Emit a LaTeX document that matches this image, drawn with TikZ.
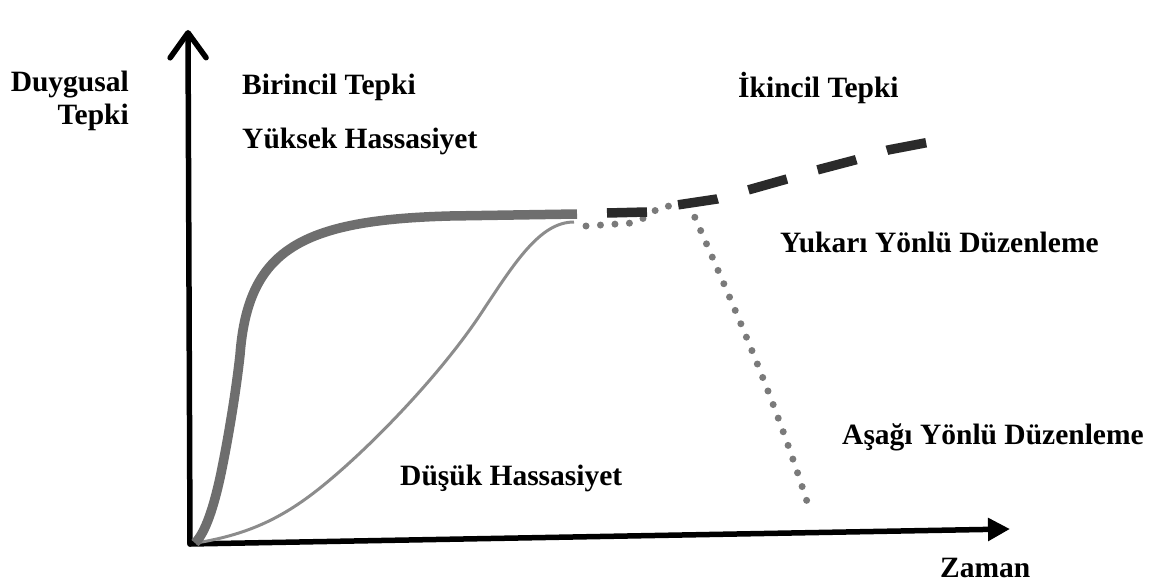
\documentclass[tikz,border=0pt]{standalone}
\usepackage{fontspec}
\setmainfont{Liberation Serif}
\usetikzlibrary{arrows.meta}
\definecolor{strongc}{HTML}{6E6E6E}
\definecolor{weakc}{HTML}{8C8C8C}
\definecolor{dotc}{HTML}{7A7A7A}
\definecolor{dashc}{HTML}{2A2A2A}
\begin{document}
\begin{tikzpicture}[x=1pt,y=-1pt,
  lbl/.style={font=\fontsize{29.5}{34}\selectfont\bfseries, inner sep=0pt, anchor=base west, text=black},
  axisline/.style={line width=5.5pt, draw=black, line cap=round, line join=round},
  strongcurve/.style={line width=9.5pt, draw=strongc},
  weakcurve/.style={line width=3pt, draw=weakc},
  dotline/.style={line width=7pt, draw=dotc, line cap=round, dash pattern=on 0pt off 14.5pt},
  dashline/.style={line width=9.5pt, draw=dashc, dash pattern=on 40pt off 32pt, line join=round}
]
\useasboundingbox (0,0) rectangle (1152,583);

% axes
\coordinate (O) at (190,544);
\coordinate (ytip) at (188,30);
\coordinate (xtip) at (1010,529);
\draw[axisline, -{Straight Barb[length=25pt,width=36pt,line cap=round,line join=round]}] (O) -- (ytip);
\draw[axisline, -{Triangle[length=22pt,width=22pt]}] (O) -- (xtip);

% low sensitivity curve
\draw[weakcurve] (196,543) .. controls (245,535) and (280,520) .. (320,488)
  .. controls (370,448) and (440,375) .. (480,315)
  .. controls (515,262) and (540,222) .. (574,222);
% high sensitivity curve
\draw[strongcurve] (195,543) .. controls (206,532) and (214,505) .. (220,478)
  .. controls (226,450) and (235,400) .. (240,355)
  .. controls (248,250) and (300,220) .. (450,216) -- (577,214);

% dotted continuations
\coordinate (branch) at (689,204);
\draw[dotline] (586,226) -- (632,223) .. controls (645,218) .. (660,207) -- (branch);
\draw[dotline] (branch) .. controls (740,320) and (775,400) .. (810,511);

% dashed upward regulation
\draw[dashline] (607,213) -- (647,212) -- (677,205) -- (717,199) -- (748,190) -- (787,179) -- (817,170) -- (855,160) -- (888,150) -- (930,142);

% labels
\node[lbl, anchor=base east] (ylab1) at (129,92) {Duygusal};
\node[lbl, anchor=base east] (ylab2) at (129,125) {Tepki};
\node[lbl] (birincil) at (242,95) {Birincil Tepki};
\node[lbl] (yuksek) at (242,149) {Yüksek Hassasiyet};
\node[lbl] (ikincil) at (738,98) {İkincil Tepki};
\node[lbl] (yukari) at (780,252) {Yukarı Yönlü Düzenleme};
\node[lbl] (asagi) at (842,444) {Aşağı Yönlü Düzenleme};
\node[lbl] (dusuk) at (400,485) {Düşük Hassasiyet};
\node[lbl] (zaman) at (940,577) {Zaman};
\end{tikzpicture}
\end{document}
